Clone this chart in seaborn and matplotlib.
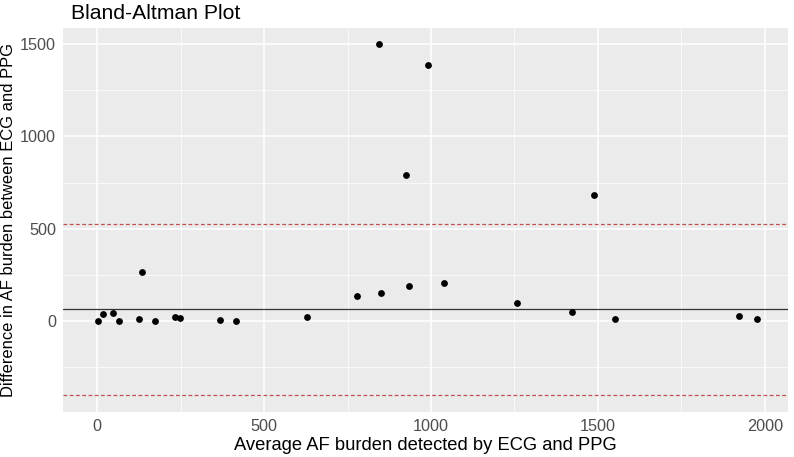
import matplotlib
matplotlib.use('Agg')
import matplotlib.pyplot as plt
import seaborn as sns
import pandas as pd
import numpy as np

# Values
avg_burden = [2, 18, 49, 65, 126, 135, 172, 233, 249, 368, 415, 628,
              778, 849, 935, 1039, 845, 990, 926, 1257, 1423, 1489, 1552, 1921, 1975]
diff_burden = [0, 34, 42, 0, 9, 266, 0, 20, 12, 4, 0, 20,
               132, 152, 190, 202, 1500, 1386, 789, 94, 45, 680, 8, 25, 9]
mean_diff = 63
upper_loa = 527
lower_loa = -405

df = pd.DataFrame({'avg': avg_burden, 'diff': diff_burden})

sns.set_theme(style='darkgrid', rc={
    'axes.facecolor': '#EBEBEB',
    'grid.color': 'white',
    'axes.edgecolor': '#EBEBEB',
})
plt.rcParams['font.family'] = ['Liberation Sans', 'DejaVu Sans']

fig, ax = plt.subplots(figsize=(7.94, 4.57), dpi=100)
fig.subplots_adjust(left=63/794, right=788/794, top=1-28/457, bottom=1-412/457)

sns.scatterplot(data=df, x='avg', y='diff', ax=ax, color='black', s=24,
                edgecolor='black', linewidth=0, zorder=3)
ax.axhline(mean_diff, color='#333333', linewidth=0.9, zorder=2)
ax.axhline(upper_loa, color='#C0504D', linewidth=0.9, linestyle=(0, (3, 2)), zorder=2)
ax.axhline(lower_loa, color='#C0504D', linewidth=0.9, linestyle=(0, (3, 2)), zorder=2)

ax.set_xlim(-102, 2069)
ax.set_ylim(-496, 1589)
ax.set_xticks([0, 500, 1000, 1500, 2000])
ax.set_yticks([0, 500, 1000, 1500])
ax.set_xticks([250, 750, 1250, 1750], minor=True)
ax.set_yticks([-250, 250, 750, 1250], minor=True)
ax.grid(True, which='major', color='white', linewidth=1.1)
ax.grid(True, which='minor', color='white', linewidth=0.5)
ax.tick_params(which='major', length=3, width=0.8, color='#333333',
               labelsize=11.7, labelcolor='#4D4D4D', pad=2)
ax.tick_params(which='minor', length=0)
for s in ax.spines.values():
    s.set_visible(False)

ax.set_xlabel('Average AF burden detected by ECG and PPG', fontsize=13.2, color='black', labelpad=2)
ax.set_ylabel('Difference in AF burden between ECG and PPG', fontsize=11.9, color='black', labelpad=3)
fig.text(71/794, 1-19/457, 'Bland-Altman Plot', fontsize=15.2, color='black', va='baseline', ha='left')

fig.savefig('out.png', dpi=100)
